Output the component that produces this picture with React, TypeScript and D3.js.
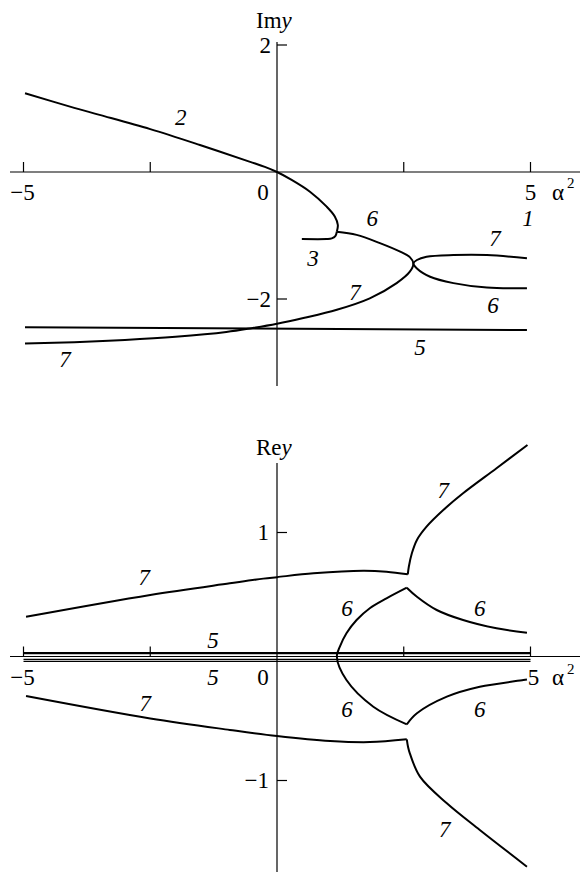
import React from "react";
import * as d3 from "d3";

type Pt = [number, number];

// Im y branches (α², Im y)
const imCurve2: Pt[] = [[-4.97, 1.24], [-4, 1.01], [-3.5, 0.9], [-2.5, 0.675], [-1.52, 0.425], [-0.53, 0.16], [-0.24, 0.08], [0, 0], [0.28, -0.12], [0.65, -0.31], [0.98, -0.546], [1.14, -0.7], [1.2, -0.835], [1.18, -0.94]];
const imCurve3: Pt[] = [[1.18, -0.94], [1.15, -1.01], [1.08, -1.045], [0.98, -1.055], [0.49, -1.055]];
const imCurve6a: Pt[] = [[1.18, -0.94], [1.57, -0.99], [2.03, -1.12], [2.43, -1.255], [2.62, -1.34], [2.69, -1.44]];
const imCurve7a: Pt[] = [[2.69, -1.44], [2.62, -1.57], [2.36, -1.75], [1.83, -1.99], [1.18, -2.17], [0.52, -2.3], [0, -2.39], [-0.5, -2.46], [-1, -2.52], [-2, -2.595], [-3, -2.645], [-4, -2.68], [-4.97, -2.7]];
const imCurve7b: Pt[] = [[2.69, -1.44], [2.76, -1.386], [2.95, -1.334], [3.48, -1.307], [4.14, -1.307], [4.93, -1.36]];
const imCurve6b: Pt[] = [[2.69, -1.44], [2.76, -1.52], [3.02, -1.65], [3.48, -1.75], [4.14, -1.82], [4.93, -1.83]];
const imCurve5: Pt[] = [[-4.97, -2.446], [4.93, -2.488]];

// Re y branches (α², Re y)
const reCurve7upLeft: Pt[] = [[-4.95, 0.32], [-2.5, 0.496], [-0.93, 0.59], [-0.27, 0.628], [0, 0.64], [0.72, 0.671], [1.7, 0.692], [2.16, 0.684], [2.58, 0.663]];
const reCurve7upRight: Pt[] = [[2.58, 0.663], [2.6, 0.724], [2.66, 0.832], [2.76, 0.94], [2.95, 1.047], [3.28, 1.181], [3.67, 1.316], [4.33, 1.518], [4.94, 1.706]];
const reCurve6Left: Pt[] = [[2.56, -0.547], [1.9, -0.405], [1.37, -0.19], [1.18, 0], [1.24, 0.079], [1.37, 0.187], [1.57, 0.294], [1.83, 0.389], [2.16, 0.469], [2.56, 0.555]];
const reCurve6upRight: Pt[] = [[2.56, 0.555], [2.76, 0.482], [3.15, 0.375], [3.67, 0.294], [4.33, 0.227], [4.93, 0.192]];
const reCurve6lowRight: Pt[] = [[2.56, -0.547], [2.76, -0.458], [3.35, -0.324], [4.0, -0.244], [4.86, -0.19], [4.93, -0.185]];
const reCurve7lowLeft: Pt[] = [[-4.95, -0.319], [-2.5, -0.5], [-0.93, -0.592], [0, -0.641], [1.05, -0.681], [1.83, -0.69], [2.56, -0.668]];
const reCurve7lowRight: Pt[] = [[2.56, -0.668], [2.585, -0.73], [2.62, -0.781], [2.82, -0.969], [3.35, -1.184], [4.0, -1.399], [4.93, -1.695]];
const reCurve5Levels = [0.028, -0.023, -0.039];
const reCurve5Widths = [2.2, 1.2, 1.2];

// ticks
const xTicks = [-5, -2.5, 2.5, 5];
const xTickLabels = [{ v: -5, t: "−5" }, { v: 0, t: "0" }, { v: 5, t: "5" }];
const imYTicks = [{ v: 2, t: "2" }, { v: -2, t: "−2" }];
const reYTicks = [{ v: 1, t: "1" }, { v: -1, t: "−1" }];

// curve labels: [α², value, text]
const imLabels: [number, number, string][] = [
  [-1.9, 0.86, "2"], [1.88, -0.73, "6"], [0.71, -1.36, "3"], [1.54, -1.9, "7"],
  [4.3, -1.04, "7"], [4.95, -0.73, "1"], [4.26, -2.1, "6"], [2.82, -2.76, "5"], [-4.18, -2.96, "7"],
];
const reLabels: [number, number, string][] = [
  [-2.62, 0.64, "7"], [-1.26, 0.13, "5"], [-1.26, -0.173, "5"], [-2.6, -0.375, "7"],
  [1.38, 0.39, "6"], [4.0, 0.39, "6"], [3.28, 1.34, "7"],
  [1.38, -0.43, "6"], [4.0, -0.43, "6"], [3.31, -1.395, "7"],
];

const W = 580;
const H = 872;
const FONT = "'Liberation Serif', 'Times New Roman', serif";
const FS = 23;

const x = d3.scaleLinear().domain([-5, 5]).range([23.5, 530.5]);
const yIm = d3.scaleLinear().domain([-2, 2]).range([299, 45]);
const yRe = d3.scaleLinear().domain([-1, 1]).range([780.5, 532.5]);

function pathFor(pts: Pt[], y: d3.ScaleLinear<number, number>) {
  const gen = d3
    .line<Pt>()
    .x((d) => x(d[0]))
    .y((d) => y(d[1]))
    .curve(d3.curveCatmullRom.alpha(0.5));
  return gen(pts) || "";
}

const stroke = { fill: "none", stroke: "#000", strokeWidth: 2, strokeLinejoin: "round" as const, strokeLinecap: "butt" as const };
const txt: React.CSSProperties = { fontFamily: FONT, fontSize: FS };
const itxt: React.CSSProperties = { fontFamily: FONT, fontSize: FS, fontStyle: "italic" };

export default function App() {
  const imY0 = yIm(0);
  const reY0 = yRe(0);
  const x0 = x(0);

  const imPaths = [
    imCurve2,
    imCurve3,
    [...imCurve6a, ...imCurve7a.slice(1)],
    [...imCurve7b.slice().reverse(), ...imCurve6b.slice(1)],
    imCurve5,
  ];
  const rePaths = [
    reCurve7upLeft,
    reCurve7upRight,
    reCurve6Left,
    reCurve6upRight,
    reCurve6lowRight,
    reCurve7lowLeft,
    reCurve7lowRight,
  ];

  const alpha = (cx: number, cy: number) => (
    <g>
      <text x={cx} y={cy} style={txt} dominantBaseline="central" textAnchor="start">α</text>
      <text x={cx + 15} y={cy - 9} style={{ ...txt, fontSize: 15 }} dominantBaseline="central" textAnchor="start">2</text>
    </g>
  );

  return (
    <svg width={W} height={H} style={{ position: "absolute", left: 0, top: 0, background: "#fff" }}>
      <rect width={W} height={H} fill="#fff" />

      {/* Im y panel */}
      <g>
        <line x1={10} x2={580} y1={imY0} y2={imY0} stroke="#000" strokeWidth={1.2} />
        <line x1={x0} x2={x0} y1={42} y2={386} stroke="#000" strokeWidth={1.2} />
        {xTicks.map((t) => (
          <line key={t} x1={x(t)} x2={x(t)} y1={imY0} y2={imY0 - 10} stroke="#000" strokeWidth={1.2} />
        ))}
        {imYTicks.map((t) => (
          <g key={t.v}>
            <line x1={x0} x2={x0 + 10} y1={yIm(t.v)} y2={yIm(t.v)} stroke="#000" strokeWidth={1.2} />
            <text x={x0 - 6} y={yIm(t.v)} style={txt} textAnchor="end" dominantBaseline="central">{t.t}</text>
          </g>
        ))}
        {xTickLabels.map((t) => (
          <text key={t.v} x={t.v === 0 ? x0 - 14 : t.v === 5 ? x(t.v) : x(t.v) - 1} y={imY0 + 20} style={txt} textAnchor="middle" dominantBaseline="central">{t.t}</text>
        ))}
        {alpha(552, imY0 + 20)}
        <text x={256} y={28} style={txt}>
          Im<tspan style={{ fontStyle: "italic" }}>y</tspan>
        </text>
        {imPaths.map((p, i) => (
          <path key={i} d={pathFor(p, yIm)} {...stroke} />
        ))}
        {imLabels.map((l, i) => (
          <text key={i} x={x(l[0])} y={yIm(l[1])} style={itxt} textAnchor="middle" dominantBaseline="central">{l[2]}</text>
        ))}
      </g>

      {/* Re y panel */}
      <g>
        <line x1={10} x2={580} y1={reY0} y2={reY0} stroke="#000" strokeWidth={1.2} />
        <line x1={x0} x2={x0} y1={463} y2={872} stroke="#000" strokeWidth={1.2} />
        {xTicks.map((t) => (
          <line key={t} x1={x(t)} x2={x(t)} y1={reY0} y2={reY0 - 10} stroke="#000" strokeWidth={1.2} />
        ))}
        {reYTicks.map((t) => (
          <g key={t.v}>
            <line x1={x0} x2={x0 + 10} y1={yRe(t.v)} y2={yRe(t.v)} stroke="#000" strokeWidth={1.2} />
            <text x={x0 - 8} y={yRe(t.v)} style={txt} textAnchor="end" dominantBaseline="central">{t.t}</text>
          </g>
        ))}
        {xTickLabels.map((t) => (
          <text key={t.v} x={t.v === 0 ? x0 - 14 : t.v === 5 ? x(t.v) + 3 : x(t.v) - 1} y={reY0 + 21} style={txt} textAnchor="middle" dominantBaseline="central">{t.t}</text>
        ))}
        {alpha(552, reY0 + 21)}
        <text x={256} y={455} style={txt}>
          Re<tspan style={{ fontStyle: "italic" }}>y</tspan>
        </text>
        {reCurve5Levels.map((v, i) => (
          <line key={i} x1={x(-5)} x2={x(5)} y1={yRe(v)} y2={yRe(v)} stroke="#000" strokeWidth={reCurve5Widths[i]} />
        ))}
        {rePaths.map((p, i) => (
          <path key={i} d={pathFor(p, yRe)} {...stroke} />
        ))}
        {reLabels.map((l, i) => (
          <text key={i} x={x(l[0])} y={yRe(l[1])} style={itxt} textAnchor="middle" dominantBaseline="central">{l[2]}</text>
        ))}
      </g>
    </svg>
  );
}
